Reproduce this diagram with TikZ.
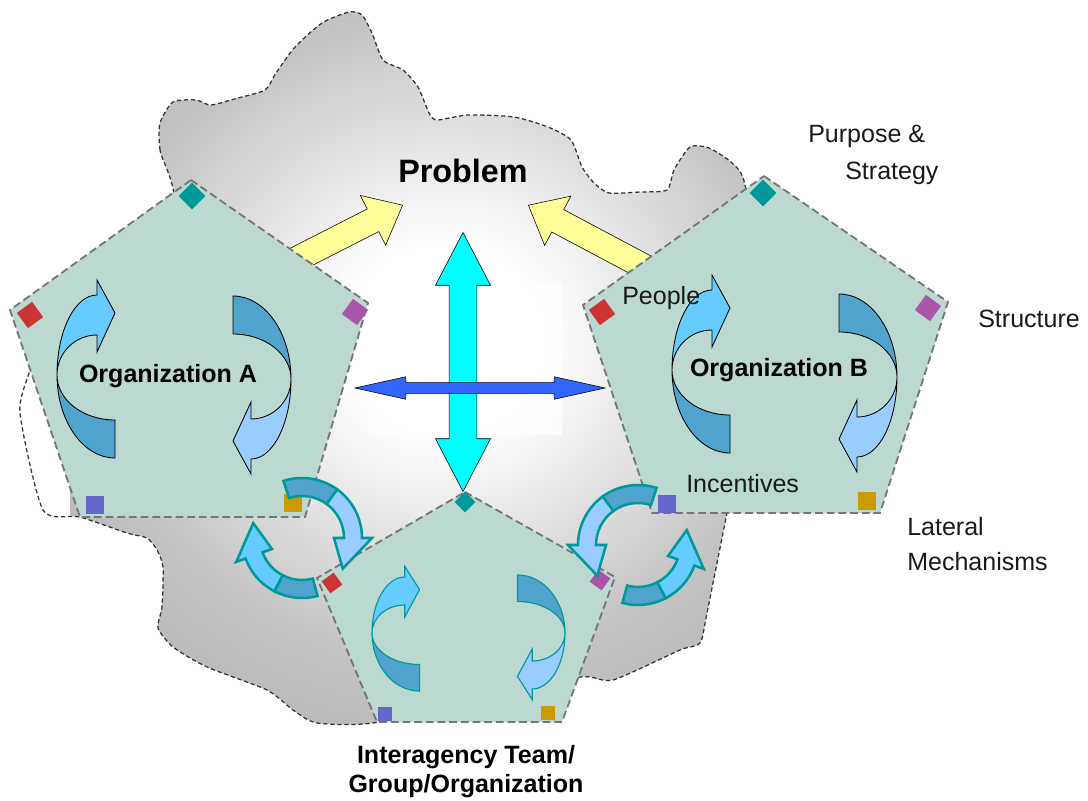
\documentclass[tikz,border=0pt]{standalone}
\usepackage{fontspec}
\setmainfont{Liberation Sans}
\usepackage{tikz}
\usetikzlibrary{arrows.meta,positioning,calc,shapes.geometric,shapes.arrows}
\definecolor{cloudGray}{RGB}{164,164,164}
\definecolor{cloudMid}{RGB}{196,196,196}
\definecolor{paleTeal}{RGB}{187,217,208}
\definecolor{edgeGray}{RGB}{118,118,118}
\definecolor{markTeal}{RGB}{0,153,153}
\definecolor{markRed}{RGB}{204,51,51}
\definecolor{markPurple}{RGB}{170,85,170}
\definecolor{markBlue}{RGB}{102,102,204}
\definecolor{markOrange}{RGB}{204,153,0}
\definecolor{ribbonDark}{RGB}{79,163,204}
\definecolor{ribbonSky}{RGB}{102,204,255}
\definecolor{ribbonPale}{RGB}{153,204,255}
\definecolor{pushYellow}{RGB}{255,255,153}
\definecolor{linkCyan}{RGB}{0,255,255}
\definecolor{linkBlue}{RGB}{51,102,255}
\pgfdeclareradialshading{cloudshade}{\pgfpoint{0bp}{0bp}}{color(0bp)=(white); color(6bp)=(white); color(20bp)=(cloudMid); color(38bp)=(cloudGray); color(50bp)=(cloudGray)}
\tikzset{
  cloud line/.style={draw=black!80,line width=0.9pt,dash pattern=on 3pt off 2pt},
  pentagon/.style={fill=paleTeal,draw=edgeGray,line width=1.3pt,dash pattern=on 5.5pt off 2.8pt},
  corner/.style={rectangle,inner sep=0pt,minimum size=4.7mm,fill=#1},
  small corner/.style={corner=#1,minimum size=3.7mm},
  push arrow/.style={single arrow,draw=black,thin,fill=pushYellow,inner sep=3.1mm,single arrow head extend=3.8mm,single arrow tip angle=80,anchor=tip},
  link arrow/.style={double arrow,draw=black,thin},
  ribbon/.style={color=black,line width=0.6pt},
  teal ribbon/.style={color=markTeal,line width=0.8pt},
  ring line/.style={color=markTeal,line width=1.8pt},
  label text/.style={font=\fontsize{17.8}{21}\selectfont,text=black!90,anchor=base west,inner sep=0pt},
  org text/.style={font=\fontsize{17.8}{21}\selectfont\bfseries,anchor=base,inner sep=0pt},
  pics/twist/.style={code={
    \filldraw[fill=ribbonDark] (0,0) arc[start angle=180,end angle=270,x radius=58,y radius=83] -- ++(0,38) arc[start angle=270,end angle=180,x radius=58,y radius=45] -- cycle;
    \filldraw[fill=#1] (0,0) arc[start angle=180,end angle=90,x radius=40,y radius=80] -- ++(0,15) -- ++(18,-33) -- ++(-18,-39) -- ++(0,17) arc[start angle=90,end angle=180,x radius=40,y radius=40] -- cycle;
  }},
  pics/ringarrow/.style n args={3}{code={
    \pgfmathsetmacro\ringmid{(#1+#2)/2}
    \filldraw[fill=ribbonDark] (#1:60) arc[start angle=#1,end angle=\ringmid,radius=60] -- (\ringmid:42) arc[start angle=\ringmid,end angle=#1,radius=42] -- cycle;
    \filldraw[fill=#3] (\ringmid:60) arc[start angle=\ringmid,end angle=#2,radius=60] -- (#2:70) -- ({#2-37}:51) -- (#2:32) -- (#2:42) arc[start angle=#2,end angle=\ringmid,radius=42] -- cycle;
  }}
}
\begin{document}
\begin{tikzpicture}[x=0.025cm,y=0.025cm]
  \useasboundingbox (0,0) rectangle (1088,-801);
  \draw[cloud line,path picture={\shade[shading=cloudshade] (70,-740) rectangle (870,60);}]
    plot[smooth cycle,tension=0.4] coordinates {(170,-215) (160,-150) (160,-123) (173,-102) (196,-100) (211,-105) (238,-98) (265,-90) (276,-73) (295,-47) (322,-23) (349,-12) (362,-15) (372,-33) (383,-60) (403,-70) (418,-87) (429,-113) (437,-120) (468,-115) (514,-117) (548,-127) (571,-140) (582,-167) (594,-183) (609,-193) (640,-192) (667,-190) (674,-170) (690,-147) (709,-148) (732,-163) (745,-185) (760,-300) (740,-450) (727,-513) (707,-613) (700,-643) (680,-650) (613,-680) (580,-677) (480,-700) (373,-723) (317,-723) (293,-710) (267,-690) (207,-667) (173,-647) (158,-628) (162,-607) (163,-567) (157,-550) (147,-538) (127,-533) (80,-517) (43,-510) (20,-413) (30,-370) (40,-330)};
  \fill[white,opacity=0.8] (368,-283) rectangle (562,-435);

  \node[push arrow,rotate=27,minimum height=3.6cm] (pushA) at (403,-205) {};
  \node[push arrow,rotate=152,minimum height=3.6cm] (pushB) at (528,-205) {};

  \coordinate (aTop) at (191,-180);
  \coordinate (aRight) at (368,-303);
  \coordinate (aLowR) at (305,-517);
  \coordinate (aLowL) at (80,-517);
  \coordinate (aLeft) at (10,-310);
  \coordinate (bTop) at (764,-176);
  \coordinate (bRight) at (948,-302);
  \coordinate (bLowR) at (880,-513);
  \coordinate (bLowL) at (652,-513);
  \coordinate (bLeft) at (583,-305);
  \coordinate (cTop) at (465,-492);
  \coordinate (cRight) at (615,-577);
  \coordinate (cLowR) at (562,-722);
  \coordinate (cLowL) at (377,-722);
  \coordinate (cLeft) at (317,-578);
  \draw[pentagon] (aTop) -- (aRight) -- (aLowR) -- (aLowL) -- (aLeft) -- cycle;
  \draw[pentagon] (bTop) -- (bRight) -- (bLowR) -- (bLowL) -- (bLeft) -- cycle;
  \draw[pentagon] (cTop) -- (cRight) -- (cLowR) -- (cLowL) -- (cLeft) -- cycle;

  \node[corner=markTeal,rotate=45] (aPurpose) at (192,-196) {};
  \node[corner=markRed,rotate=36] (aPeople) at (30,-315) {};
  \node[corner=markPurple,rotate=-36] (aStructure) at (355,-312) {};
  \node[corner=markBlue] (aIncentives) at (95,-505) {};
  \node[corner=markOrange] (aLateral) at (293,-503) {};
  \node[corner=markTeal,rotate=45] (bPurpose) at (763,-193) {};
  \node[corner=markRed,rotate=36] (bPeople) at (602,-312) {};
  \node[corner=markPurple,rotate=-36] (bStructure) at (928,-308) {};
  \node[corner=markBlue] (bIncentives) at (667,-504) {};
  \node[corner=markOrange] (bLateral) at (867,-501) {};
  \node[small corner=markTeal,rotate=45] (cPurpose) at (465,-502) {};
  \node[small corner=markRed,rotate=36] (cPeople) at (332,-583) {};
  \node[small corner=markPurple,rotate=-36] (cStructure) at (600,-580) {};
  \node[small corner=markBlue] (cIncentives) at (385,-714) {};
  \node[small corner=markOrange] (cLateral) at (548,-713) {};

  \pic[ribbon] at (57,-375) {twist=ribbonSky};
  \pic[ribbon,rotate=180] at (291,-379) {twist=ribbonPale};
  \pic[ribbon] at (672,-370) {twist=ribbonSky};
  \pic[ribbon,rotate=180] at (897,-377) {twist=ribbonPale};
  \pic[teal ribbon,xscale=0.82,yscale=0.7] at (372,-633) {twist=ribbonSky};
  \pic[teal ribbon,rotate=180,xscale=0.82,yscale=0.7] at (565,-633) {twist=ribbonPale};

  \pic[ring line] at (302,-538) {ringarrow={108}{0}{ribbonPale}};
  \pic[ring line] at (302,-538) {ringarrow={-75}{-160}{ribbonSky}};
  \pic[ring line,xscale=-1] at (638,-545) {ringarrow={108}{0}{ribbonPale}};
  \pic[ring line,xscale=-1] at (638,-545) {ringarrow={-75}{-160}{ribbonSky}};

  \node[link arrow,fill=linkCyan,rotate=90,minimum height=6.475cm,inner sep=3.4mm,double arrow head extend=3.4mm,double arrow tip angle=55] (crossV) at (463,-362) {};
  \node[link arrow,fill=linkBlue,minimum height=6.25cm,inner sep=1.25mm,double arrow head extend=1.5mm,double arrow tip angle=25] (crossH) at (480,-388) {};

  \node[org text,font=\fontsize{23}{27}\selectfont\bfseries] (problem) at (463,-183) {Problem};
  \node[org text] (orgA) at (168,-383) {Organization A};
  \node[org text] (orgB) at (779,-377) {Organization B};
  \node[org text] (team) at (466,-763) {Interagency Team/};
  \node[org text] (group) at (466,-792) {Group/Organization};
  \node[label text] (purpose) at (808,-143) {Purpose \&};
  \node[label text] (strategy) at (845,-180) {Strategy};
  \node[label text] (structure) at (978,-328) {Structure};
  \node[label text] (lateral) at (907,-535) {Lateral};
  \node[label text] (mechanisms) at (907,-570) {Mechanisms};
  \node[label text] (people) at (622,-305) {People};
  \node[label text] (incentives) at (686,-492) {Incentives};
\end{tikzpicture}
\end{document}
